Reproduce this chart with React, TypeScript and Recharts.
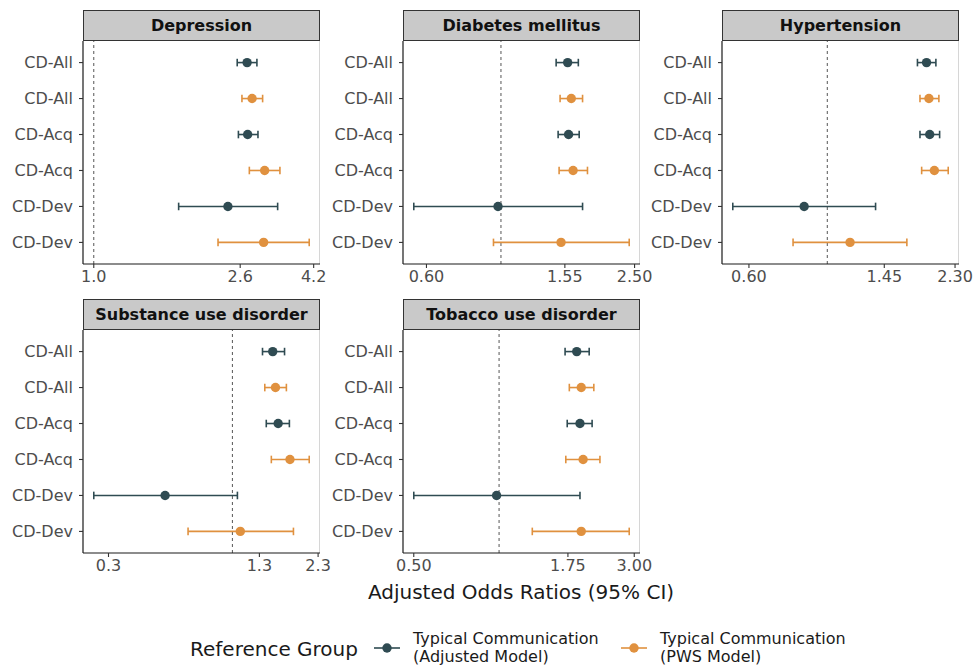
import React from "react";
import {
  ScatterChart,
  Scatter,
  XAxis,
  YAxis,
  ErrorBar,
  ReferenceLine,
} from "recharts";

// row order, top to bottom
const rowLabels = ["CD-All", "CD-All", "CD-Acq", "CD-Acq", "CD-Dev", "CD-Dev"];
// 0 = Typical Communication (Adjusted Model), 1 = Typical Communication (PWS Model)
const rowGroups = [0, 1, 0, 1, 0, 1];

const depressionOR = [2.72, 2.81, 2.73, 3.05, 2.4, 3.03];
const depressionLo = [2.55, 2.63, 2.57, 2.76, 1.74, 2.25];
const depressionHi = [2.9, 3.01, 2.92, 3.37, 3.32, 4.08];
const depressionTicks = [1.0, 2.6, 4.2];

const diabetesOR = [1.58, 1.62, 1.59, 1.64, 0.98, 1.51];
const diabetesLo = [1.46, 1.5, 1.48, 1.49, 0.55, 0.95];
const diabetesHi = [1.7, 1.75, 1.71, 1.81, 1.75, 2.41];
const diabetesTicks = [0.6, 1.55, 2.5];

const hypertensionOR = [1.91, 1.94, 1.95, 2.01, 0.86, 1.16];
const hypertensionLo = [1.8, 1.83, 1.83, 1.85, 0.54, 0.8];
const hypertensionHi = [2.03, 2.07, 2.08, 2.2, 1.37, 1.68];
const hypertensionTicks = [0.6, 1.45, 2.3];

const substanceOR = [1.48, 1.52, 1.56, 1.75, 0.52, 1.08];
const substanceLo = [1.34, 1.37, 1.39, 1.46, 0.26, 0.65];
const substanceHi = [1.66, 1.69, 1.74, 2.11, 1.05, 1.81];
const substanceTicks = [0.3, 1.3, 2.3];

const tobaccoOR = [1.88, 1.95, 1.93, 1.98, 0.98, 1.95];
const tobaccoLo = [1.71, 1.77, 1.74, 1.72, 0.5, 1.31];
const tobaccoHi = [2.08, 2.16, 2.13, 2.27, 1.93, 2.88];
const tobaccoTicks = [0.5, 1.75, 3.0];

const groupNames = [
  ["Typical Communication", "(Adjusted Model)"],
  ["Typical Communication", "(PWS Model)"],
];
const groupColors = ["#2f4b52", "#e0913f"];

const FONT = "'DejaVu Sans', sans-serif";
const Y_AXIS_W = 83;
const PLOT_W = 237;
const PLOT_H = 223;
const STRIP_H = 31;

type Panel = {
  title: string;
  or: number[];
  lo: number[];
  hi: number[];
  ticks: number[];
  decimals: number;
  left: number;
  top: number;
};

const panels: Panel[] = [
  { title: "Depression", or: depressionOR, lo: depressionLo, hi: depressionHi, ticks: depressionTicks, decimals: 1, left: 83, top: 10 },
  { title: "Diabetes mellitus", or: diabetesOR, lo: diabetesLo, hi: diabetesHi, ticks: diabetesTicks, decimals: 2, left: 403, top: 10 },
  { title: "Hypertension", or: hypertensionOR, lo: hypertensionLo, hi: hypertensionHi, ticks: hypertensionTicks, decimals: 2, left: 722, top: 10 },
  { title: "Substance use disorder", or: substanceOR, lo: substanceLo, hi: substanceHi, ticks: substanceTicks, decimals: 1, left: 83, top: 299 },
  { title: "Tobacco use disorder", or: tobaccoOR, lo: tobaccoLo, hi: tobaccoHi, ticks: tobaccoTicks, decimals: 2, left: 403, top: 299 },
];

// ggplot-like 5% expansion on the log scale, with the reference line at 1 included
function logDomain(p: Panel): [number, number] {
  const a = Math.log(Math.min(1, ...p.lo));
  const b = Math.log(Math.max(1, ...p.hi));
  const pad = (b - a) * 0.05;
  return [Math.exp(a - pad), Math.exp(b + pad)];
}

function groupData(p: Panel, g: number) {
  return rowGroups
    .map((grp, i) => ({ grp, row: i, or: p.or[i], err: [p.or[i] - p.lo[i], p.hi[i] - p.or[i]] }))
    .filter((d) => d.grp === g);
}

const dot = (color: string) => (props: any) =>
  <circle cx={props.cx} cy={props.cy} r={4.7} fill={color} />;

function Facet({ p }: { p: Panel }) {
  const plotTop = p.top + STRIP_H;
  return (
    <>
      <div
        style={{
          position: "absolute",
          left: p.left,
          top: p.top,
          width: PLOT_W,
          height: STRIP_H,
          boxSizing: "border-box",
          background: "#c9c9c9",
          border: "1.2px solid #333333",
          fontWeight: "bold",
          fontSize: 16,
          color: "#111111",
          display: "flex",
          alignItems: "center",
          justifyContent: "center",
        }}
      >
        {p.title}
      </div>
      <div
        style={{
          position: "absolute",
          left: p.left,
          top: plotTop,
          width: PLOT_W,
          height: PLOT_H,
          boxSizing: "border-box",
          borderRight: "1px solid #d6d6d6",
        }}
      />
      <div style={{ position: "absolute", left: p.left - Y_AXIS_W, top: plotTop }}>
        <ScatterChart
          width={Y_AXIS_W + PLOT_W + 20}
          height={PLOT_H + 40}
          margin={{ top: 0, right: 20, bottom: 0, left: 0 }}
        >
          <XAxis
            type="number"
            dataKey="or"
            scale="log"
            domain={logDomain(p)}
            allowDataOverflow
            ticks={p.ticks}
            tickFormatter={(v: number) => v.toFixed(p.decimals)}
            height={40}
            tickSize={4}
            tickMargin={3}
            axisLine={{ stroke: "#1a1a1a", strokeWidth: 1.2 }}
            tickLine={{ stroke: "#333333", strokeWidth: 1.1 }}
            tick={{ fill: "#4d4d4d", fontSize: 16, fontFamily: FONT }}
          />
          <YAxis
            type="number"
            dataKey="row"
            domain={[-0.6, 5.6]}
            reversed
            allowDataOverflow
            ticks={[0, 1, 2, 3, 4, 5]}
            tickFormatter={(v: number) => rowLabels[v]}
            width={Y_AXIS_W}
            tickSize={4}
            tickMargin={6}
            axisLine={{ stroke: "#1a1a1a", strokeWidth: 1.2 }}
            tickLine={{ stroke: "#333333", strokeWidth: 1.1 }}
            tick={{ fill: "#4d4d4d", fontSize: 16, fontFamily: FONT }}
          />
          <ReferenceLine x={1} stroke="#555555" strokeDasharray="3 3" strokeWidth={1} />
          {[0, 1].map((g) => (
            <Scatter
              key={g}
              data={groupData(p, g)}
              isAnimationActive={false}
              shape={dot(groupColors[g])}
            >
              <ErrorBar
                dataKey="err"
                direction="x"
                width={3.8}
                stroke={groupColors[g]}
                strokeWidth={1.6}
                isAnimationActive={false}
              />
            </Scatter>
          ))}
        </ScatterChart>
      </div>
    </>
  );
}

function LegendKey({ color }: { color: string }) {
  return (
    <svg width={28} height={12} style={{ display: "block" }}>
      <line x1={1} y1={6} x2={27} y2={6} stroke={color} strokeWidth={1.6} />
      <circle cx={14} cy={6} r={4.7} fill={color} />
    </svg>
  );
}

export default function App() {
  return (
    <div
      style={{
        position: "absolute",
        left: 0,
        top: 0,
        width: 976,
        height: 667,
        background: "#ffffff",
        fontFamily: FONT,
      }}
    >
      {panels.map((p) => (
        <Facet key={p.title} p={p} />
      ))}
      <div
        style={{
          position: "absolute",
          left: 83,
          width: 876,
          top: 578,
          textAlign: "center",
          fontSize: 20,
          color: "#1a1a1a",
          lineHeight: "28px",
        }}
      >
        Adjusted Odds Ratios (95% CI)
      </div>
      <div
        style={{
          position: "absolute",
          left: 190,
          top: 636,
          fontSize: 20,
          color: "#1a1a1a",
          lineHeight: "26px",
        }}
      >
        Reference Group
      </div>
      {[0, 1].map((g) => (
        <div
          key={g}
          style={{
            position: "absolute",
            left: g === 0 ? 373 : 620,
            top: 630,
            display: "flex",
            alignItems: "center",
          }}
        >
          <LegendKey color={groupColors[g]} />
          <div
            style={{
              marginLeft: 12,
              fontSize: 16,
              color: "#1a1a1a",
              lineHeight: "18px",
            }}
          >
            <div>{groupNames[g][0]}</div>
            <div>{groupNames[g][1]}</div>
          </div>
        </div>
      ))}
    </div>
  );
}
